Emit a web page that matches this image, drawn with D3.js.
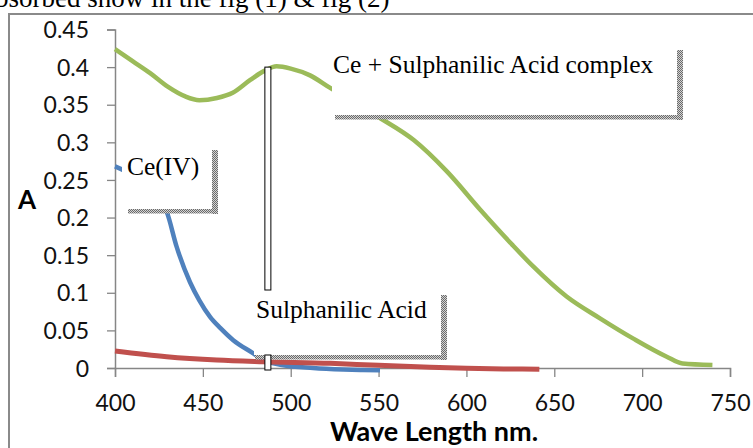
<!DOCTYPE html>
<html>
<head>
<meta charset="utf-8">
<script src="https://cdn.jsdelivr.net/npm/d3@7/dist/d3.min.js"></script>
<style>
    body { margin: 0; background: #fff; }
    svg { display: block; }
</style>
</head>
<body>
<div id="chart"></div>
<script>
// Ce(IV)
const ceWave = [400, 410, 420, 429.4, 435.1, 442.7, 448, 454.1, 460, 467.3, 478.7, 484.4, 495, 512.7, 530, 541.1, 550.8];
const ceAbs = [0.268, 0.256, 0.236, 0.208, 0.161, 0.114, 0.09, 0.068, 0.053, 0.037, 0.0195, 0.0106, 0.004, 0, -0.002, -0.0027, -0.003];

// Sulphanilic Acid
const saWave = [400, 429.4, 457.9, 484.2, 522.4, 550, 579.3, 600, 624.8, 641.5];
const saAbs = [0.0226, 0.015, 0.0106, 0.0084, 0.0062, 0.0035, 0.001, -0.0004, -0.0013, -0.0017];

// Ce + Sulphanilic Acid complex
const cxWave = [400, 410, 420, 430, 440, 448, 458, 467, 477, 485, 492, 500, 511, 522, 536, 551, 570, 589, 608, 626, 638, 657, 676, 695, 714, 723, 740];
const cxAbs = [0.424, 0.408, 0.392, 0.374, 0.361, 0.356, 0.359, 0.366, 0.383, 0.395, 0.401, 0.398, 0.389, 0.373, 0.353, 0.332, 0.303, 0.261, 0.21, 0.164, 0.135, 0.095, 0.066, 0.039, 0.015, 0.006, 0.004];

const xTicks = [400, 450, 500, 550, 600, 650, 700, 750];
const yTicks = [0, 0.05, 0.1, 0.15, 0.2, 0.25, 0.3, 0.35, 0.4, 0.45];
const yTickLabels = ["0", "0.05", "0.1", "0.15", "0.2", "0.25", "0.3", "0.35", "0.4", "0.45"];

const seriesNames = ["Ce(IV)", "Sulphanilic Acid", "Ce + Sulphanilic Acid complex"];

const width = 753;
const height = 448;
const margin = { left: 115, right: 23, top: 29.5, bottom: 80 };

const svg = d3.select("#chart")
    .append("svg")
    .attr("width", width)
    .attr("height", height);

// checkered "shadow" fill used on the label boxes
const pat = svg.append("defs").append("pattern")
    .attr("id", "checker")
    .attr("width", 2)
    .attr("height", 2)
    .attr("patternUnits", "userSpaceOnUse");
pat.append("rect").attr("width", 2).attr("height", 2).attr("fill", "#d4d4d4");
pat.append("rect").attr("width", 1).attr("height", 1).attr("fill", "#6a6a6a");
pat.append("rect").attr("x", 1).attr("y", 1).attr("width", 1).attr("height", 1).attr("fill", "#6a6a6a");

// text line cut off at the top of the page (as in the source)
svg.append("text")
    .attr("x", -17)
    .attr("y", 7)
    .attr("font-family", "Liberation Serif, Times New Roman, serif")
    .attr("font-size", 27)
    .text("absorbed show in the fig (1) & fig (2)");

// chart frame
svg.append("path")
    .attr("d", `M9,${height} V14 H${width}`)
    .attr("fill", "none")
    .attr("stroke", "#8a8a8a")
    .attr("stroke-width", 2);

const x = d3.scaleLinear().domain([400, 750]).range([margin.left, width - margin.right]);
const y = d3.scaleLinear().domain([0, 0.45]).range([height - margin.bottom, margin.top]);

// axes
const xAxis = svg.append("g")
    .attr("transform", `translate(0, ${y(0)})`)
    .call(d3.axisBottom(x).tickValues(xTicks).tickSize(9).tickPadding(18));

const yAxis = svg.append("g")
    .attr("transform", `translate(${x(400)}, 0)`)
    .call(d3.axisLeft(y).tickValues(yTicks).tickSize(8).tickPadding(18)
        .tickFormat((d, i) => yTickLabels[i]));

[xAxis, yAxis].forEach((g) => {
    g.select(".domain").attr("stroke", "#868686").attr("stroke-width", 1.5);
    g.selectAll(".tick line").attr("stroke", "#868686").attr("stroke-width", 1.3);
    g.selectAll(".tick text")
        .attr("font-family", "Lato, sans-serif")
        .attr("font-size", 23)
        .attr("fill", "#111");
});
xAxis.selectAll(".tick text").attr("dy", "0.71em");
yAxis.selectAll(".tick text").attr("dy", "0.35em");

// axis titles
svg.append("text")
    .attr("x", 434)
    .attr("y", 441)
    .attr("text-anchor", "middle")
    .attr("font-family", "Lato, sans-serif")
    .attr("font-weight", "bold")
    .attr("font-size", 27)
    .text("Wave Length nm.");

svg.append("text")
    .attr("x", 18)
    .attr("y", 209)
    .attr("font-family", "Lato, sans-serif")
    .attr("font-weight", "bold")
    .attr("font-size", 26)
    .text("A");

// series lines
const line = d3.line()
    .x((d) => x(d[0]))
    .y((d) => y(d[1]))
    .curve(d3.curveMonotoneX);

const series = [
    { wave: ceWave, abs: ceAbs, color: "#4f81bd", w: 4.5 },
    { wave: saWave, abs: saAbs, color: "#c0504d", w: 5 },
    { wave: cxWave, abs: cxAbs, color: "#9bbb59", w: 4.5 }
];

svg.selectAll(".series")
    .data(series)
    .enter()
    .append("path")
    .attr("class", "series")
    .attr("d", (s) => line(s.wave.map((v, i) => [v, s.abs[i]])))
    .attr("fill", "none")
    .attr("stroke", (s) => s.color)
    .attr("stroke-width", (s) => s.w)
    .attr("stroke-linecap", "butt");

// data label boxes: [left, top, right, bottom] in px, text start and baseline
const labelBoxes = [
    { text: seriesNames[0], box: [122, 148, 212, 209], tx: 127, ty: 175, startX: 128 },
    { text: seriesNames[1], box: [254, 293, 441, 355], tx: 256, ty: 318, startX: 255 },
    { text: seriesNames[2], box: [332, 48, 677, 115], tx: 333, ty: 73, startX: 335 }
];

// leader drawn as a hollow bar from the complex peak to the acid label
const leaderX = x(487);
svg.append("rect")
    .attr("x", leaderX - 3)
    .attr("y", y(0.4))
    .attr("width", 6)
    .attr("height", 290 - y(0.4))
    .attr("fill", "#fff")
    .attr("stroke", "#000")
    .attr("stroke-width", 1);

labelBoxes.forEach((l) => {
    const [x0, y0, x1, y1] = l.box;
    svg.append("rect")
        .attr("x", x0).attr("y", y0)
        .attr("width", x1 - x0).attr("height", y1 - y0)
        .attr("fill", "#fff");
    // right strip
    svg.append("rect")
        .attr("x", x1).attr("y", y0 + 2)
        .attr("width", 6).attr("height", y1 - y0 + 3)
        .attr("fill", "url(#checker)");
    // bottom strip
    svg.append("rect")
        .attr("x", l.startX).attr("y", y1)
        .attr("width", x1 + 6 - l.startX).attr("height", 4.5)
        .attr("fill", "url(#checker)");
    svg.append("text")
        .attr("x", l.tx)
        .attr("y", l.ty)
        .attr("font-family", "Liberation Serif, Times New Roman, serif")
        .attr("font-size", 25.5)
        .attr("fill", "#000")
        .text(l.text);
});

// small hollow foot of the leader at the axis
svg.append("rect")
    .attr("x", leaderX - 3)
    .attr("y", 355)
    .attr("width", 6)
    .attr("height", y(0) + 2 - 355)
    .attr("fill", "#fff")
    .attr("stroke", "#000")
    .attr("stroke-width", 1);
</script>
</body>
</html>
